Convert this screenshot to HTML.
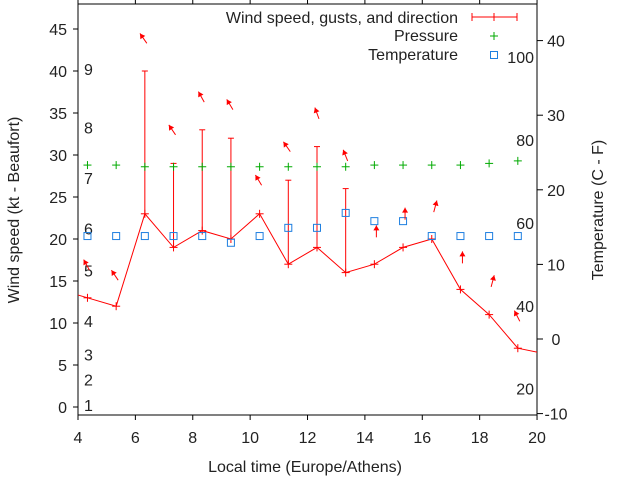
<!DOCTYPE html>
<html><head><meta charset="utf-8"><style>
html,body{margin:0;padding:0;background:#fff;}
svg{display:block;font-family:"Liberation Sans",sans-serif;}
text{font-size:16px;fill:#222;}
</style></head><body>
<svg id="chart" width="640" height="480" viewBox="0 0 640 480" xmlns="http://www.w3.org/2000/svg">
<defs><clipPath id="clip"><rect x="78" y="4" width="459" height="411"/></clipPath></defs>
<g id="axes"></g>
<g id="plot" clip-path="url(#clip)"></g>
<g id="legend">
 <text x="458" y="23" text-anchor="end">Wind speed, gusts, and direction</text>
 <g stroke="#f00" stroke-width="1"><line x1="472" y1="17" x2="517" y2="17"/><line x1="472" y1="13" x2="472" y2="21"/><line x1="517" y1="13" x2="517" y2="21"/><line x1="494" y1="13" x2="494" y2="21"/></g>
 <text x="458" y="41" text-anchor="end">Pressure</text>
 <g stroke="#0a0"><line x1="490" y1="36" x2="498" y2="36"/><line x1="494" y1="32" x2="494" y2="40"/></g>
 <text x="458" y="60" text-anchor="end">Temperature</text>
 <rect x="490.5" y="51.5" width="7" height="7" fill="none" stroke="#1e7fe0"/>
</g>
<text x="305" y="472" text-anchor="middle">Local time (Europe/Athens)</text>
<text transform="translate(19,210) rotate(-90)" text-anchor="middle">Wind speed (kt - Beaufort)</text>
<text transform="translate(603,210) rotate(-90)" text-anchor="middle">Temperature (C - F)</text>
</svg>
<script>
const hours=[3.33,4.33,5.33,6.33,7.33,8.33,9.33,10.33,11.33,12.33,13.33,14.33,15.33,16.33,17.33,18.33,19.33,20.33];
const windSpeed=[14,13,12,23,19,21,20,23,17,19,16,17,19,20,14,11,7,6.3];
const gusts=[null,null,null,40,29,33,32,null,27,31,26,null,null,null,null,null,null,null];
const pressure=[null,28.8,28.8,28.6,28.6,28.6,28.6,28.6,28.6,28.6,28.6,28.8,28.8,28.8,28.8,29.0,29.3,null];
const temperature=[null,13.8,13.8,13.8,13.8,13.8,12.9,13.8,14.9,14.9,16.9,15.8,15.8,13.8,13.8,13.8,13.8,null];
const arrowLevel=[null,16.3,15.1,43.3,32.4,36.3,35.4,26.4,30.4,34.3,29.3,20.2,22.3,23.2,17.1,14.3,10.2,null];
const arrowDir=[null,-29,-34,-35,-34,-29,-31,-31,-35,-20,-22,0,0,15,0,15,-27,null];
const xTicks=[4,6,8,10,12,14,16,18,20];
const yTicks=[0,5,10,15,20,25,30,35,40,45];
const y2Ticks=[-10,0,10,20,30,40];
const beaufort=[[1,1],[2,4],[3,7],[4,11],[5,17],[6,22],[7,28],[8,34],[9,41]];
const fahrenheit=[20,40,60,80,100];

const X=v=>78+(v-4)*28.69;
const Y=v=>407-v*8.4;
const Y2=v=>339-v*7.46;
const NS='http://www.w3.org/2000/svg';
function mk(tag,attrs,parent,txt){const e=document.createElementNS(NS,tag);for(const k in attrs)e.setAttribute(k,attrs[k]);if(txt!==undefined)e.textContent=txt;parent.appendChild(e);return e;}
const axes=document.getElementById('axes'),plot=document.getElementById('plot');
const frame=mk('rect',{x:78,y:4,width:459,height:411,fill:'none',stroke:'#000'},axes);


xTicks.forEach(t=>{
 const x=X(t);
 mk('line',{x1:x,y1:415,x2:x,y2:420,stroke:'#000'},axes);
 mk('line',{x1:x,y1:4,x2:x,y2:-1,stroke:'#000'},axes);
 const l=mk('text',{x:x,y:443,'text-anchor':'middle'},axes,String(t));
 
 
});
yTicks.forEach(t=>{
 const y=Y(t);
 mk('line',{x1:73,y1:y,x2:78,y2:y,stroke:'#000'},axes);
 const l=mk('text',{x:67,y:y+6,'text-anchor':'end'},axes,String(t));
 
 
});
y2Ticks.forEach(t=>{
 const y=Y2(t);
 mk('line',{x1:537,y1:y,x2:543,y2:y,stroke:'#000'},axes);
 const l=mk('text',{x:556,y:y+6,'text-anchor':'middle'},axes,String(t));
 
 
});
beaufort.forEach(([b,v])=>{
 const l=mk('text',{x:84,y:Y(v-0.75)+6},axes,String(b));
 
 
});
fahrenheit.forEach(f=>{
 const c=(f-32)*5/9;
 const l=mk('text',{x:534,y:Y2(c)+6,'text-anchor':'end'},axes,String(f));
 
 
});
const pts=hours.map((h,i)=>X(h)+','+Y(windSpeed[i])).join(' ');
const wl=mk('polyline',{points:pts,fill:'none',stroke:'#f00','stroke-width':1},plot);


hours.forEach((h,i)=>{
 const x=X(h),y=Y(windSpeed[i]);
 const g=mk('g',{stroke:'#f00'},plot);
 
 
 mk('line',{x1:x-4,y1:y,x2:x+4,y2:y},g);mk('line',{x1:x,y1:y-4,x2:x,y2:y+4},g);
 if(gusts[i]!==null){
  const gy=Y(gusts[i]);
  const e=mk('g',{stroke:'#f00'},plot);
  
  
  mk('line',{x1:x,y1:y,x2:x,y2:gy},e);mk('line',{x1:x-3,y1:gy,x2:x+3,y2:gy},e);
 }
 if(pressure[i]!==null){
  const py=Y(pressure[i]);
  const p=mk('g',{stroke:'#0a0'},plot);
  
  
  mk('line',{x1:x-4,y1:py,x2:x+4,y2:py},p);mk('line',{x1:x,y1:py-4,x2:x,y2:py+4},p);
 }
 if(temperature[i]!==null){
  const ty=Y2(temperature[i]);
  const r=mk('rect',{x:x-3.5,y:ty-3.5,width:7,height:7,fill:'none',stroke:'#1e7fe0'},plot);
  
  
 }
 if(arrowLevel[i]!==null){
  const a=arrowDir[i]*Math.PI/180,L=12;
  const tx=x+2,ty=Y(arrowLevel[i]);
  const hx=tx+L*Math.sin(a),hy=ty-L*Math.cos(a);
  const ar=mk('g',{stroke:'#f00',fill:'#f00'},plot);
  
  
  mk('line',{x1:tx,y1:ty,x2:hx,y2:hy},ar);
  const bx=hx-5*Math.sin(a),by=hy+5*Math.cos(a),px=3*Math.cos(a),py=3*Math.sin(a);
  mk('polygon',{points:`${hx},${hy} ${bx+px},${by+py} ${bx-px},${by-py}`,stroke:'none'},ar);
 }
});
</script>
</body></html>
